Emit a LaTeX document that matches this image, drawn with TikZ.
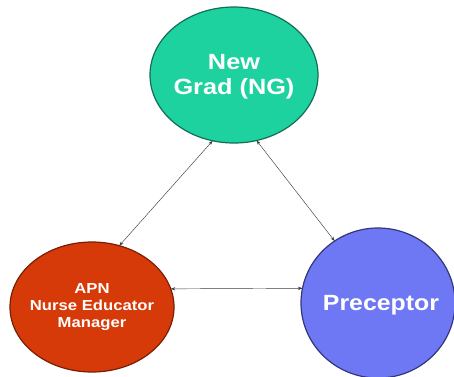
\documentclass[tikz,border=0pt]{standalone}
\usepackage{fontspec}
\setmainfont{Liberation Sans}
\usetikzlibrary{shapes.geometric,arrows.meta}
\definecolor{tealfill}{RGB}{30,210,160}
\definecolor{tealedge}{RGB}{20,110,85}
\definecolor{redfill}{RGB}{214,58,8}
\definecolor{rededge}{RGB}{120,30,5}
\definecolor{bluefill}{RGB}{110,120,245}
\definecolor{blueedge}{RGB}{50,55,120}
\definecolor{linkgray}{RGB}{60,60,60}
\tikzset{
  blob/.style={ellipse, inner sep=0pt, outer sep=0pt, line width=1.2pt},
  lbl/.style={text=white, font=\bfseries, align=center, inner sep=0pt},
  link/.style={draw=linkgray, line width=0.45pt, {Stealth[length=4.5pt,width=3.2pt]}-{Stealth[length=4.5pt,width=3.2pt]}}
}
\begin{document}
\begin{tikzpicture}[x=1pt,y=-1pt]
\useasboundingbox (0,0) rectangle (454,376);
\clip (0,0) rectangle (454,376);
\node[blob, fill=tealfill, draw=tealedge, minimum width=168pt, minimum height=136pt] (ng) at (234,75) {};
\node[blob, fill=redfill, draw=rededge, minimum width=164pt, minimum height=130pt] (apn) at (92,307) {};
\node[blob, fill=bluefill, draw=blueedge, minimum width=154pt, minimum height=150pt] (pre) at (378,303) {};
\node[lbl, font=\fontsize{22}{25}\selectfont\bfseries] (ngt) at (234,77) {\scalebox{1.15}[1]{New}\\\scalebox{1.15}[1]{Grad (NG)}};
\node[lbl, font=\fontsize{14.5}{17}\selectfont\bfseries] (apnt) at (92,307) {\scalebox{1.15}[1]{APN}\\\scalebox{1.15}[1]{Nurse Educator}\\\scalebox{1.15}[1]{Manager}};
\node[lbl, font=\fontsize{22}{25}\selectfont\bfseries] (pret) at (381,305) {\scalebox{1.13}[1]{Preceptor}};
\draw[link] (apn.66) -- (ng.252);
\draw[link] (ng.289) -- (pre.125);
\draw[link] (apn.13) -- (pre.169);
\end{tikzpicture}
\end{document}
